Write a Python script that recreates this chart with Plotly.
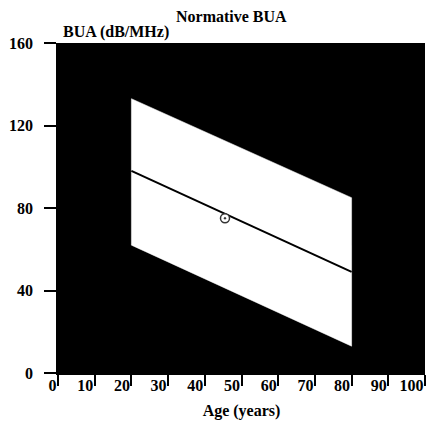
import plotly.graph_objects as go

# Data
band_age = [20, 80]
band_upper = [133, 85]
band_lower = [62, 13]
mean_age = [20, 80]
mean_bua = [98, 49]
point_age = [45.5]
point_bua = [75]
x_ticks = [0, 10, 20, 30, 40, 50, 60, 70, 80, 90, 100]
y_ticks = [0, 40, 80, 120, 160]

FONT = "Liberation Serif"

fig = go.Figure()
poly_x = band_age + band_age[::-1] + [band_age[0]]
poly_y = band_upper + band_lower[::-1] + [band_upper[0]]
fig.add_trace(go.Scatter(x=poly_x, y=poly_y, fill="toself", fillcolor="white",
                         mode="lines", line=dict(color="white", width=0.5),
                         hoverinfo="skip", showlegend=False))
fig.add_trace(go.Scatter(x=mean_age, y=mean_bua, mode="lines",
                         line=dict(color="black", width=2), showlegend=False))
fig.add_trace(go.Scatter(x=point_age, y=point_bua, mode="markers",
                         marker=dict(symbol="circle-dot", size=9, color="white",
                                     line=dict(color="#333", width=1.5)),
                         showlegend=False))

fig.update_layout(
    width=431, height=423,
    margin=dict(l=58, r=6, t=43, b=50),
    paper_bgcolor="white", plot_bgcolor="black",
    font=dict(family=FONT, size=16, color="black"),
    xaxis=dict(range=[0, 100], tickvals=x_ticks, ticks="outside", ticklen=11,
               tickwidth=1.5, tickcolor="black", showgrid=False, zeroline=False,
               showline=True, linecolor="black", linewidth=1.5,
               ticklabelposition="outside left", ticklabelstandoff=-3,
               tickfont=dict(family=FONT, size=16, weight="bold"),
               title=dict(text="Age (years)", font=dict(family=FONT, size=16, weight="bold"),
                          standoff=12)),
    yaxis=dict(range=[0, 160], tickvals=y_ticks, ticks="outside", ticklen=12,
               tickwidth=1.5, tickcolor="black", showgrid=False, zeroline=False,
               showline=True, linecolor="black", linewidth=1.5,
               ticklabelstandoff=8,
               tickfont=dict(family=FONT, size=16, weight="bold")),
    annotations=[
        dict(text="Normative BUA", xref="paper", yref="paper", x=(231 - 58) / 367,
             y=1, yshift=27, xanchor="center", yanchor="middle", showarrow=False,
             font=dict(family=FONT, size=16, weight="bold")),
        dict(text="BUA (dB/MHz)", xref="paper", yref="paper", x=0, xshift=3,
             y=1, yanchor="bottom", xanchor="left", showarrow=False, yshift=0,
             font=dict(family=FONT, size=16, weight="bold")),
    ],
)

fig.write_html("out.html")
